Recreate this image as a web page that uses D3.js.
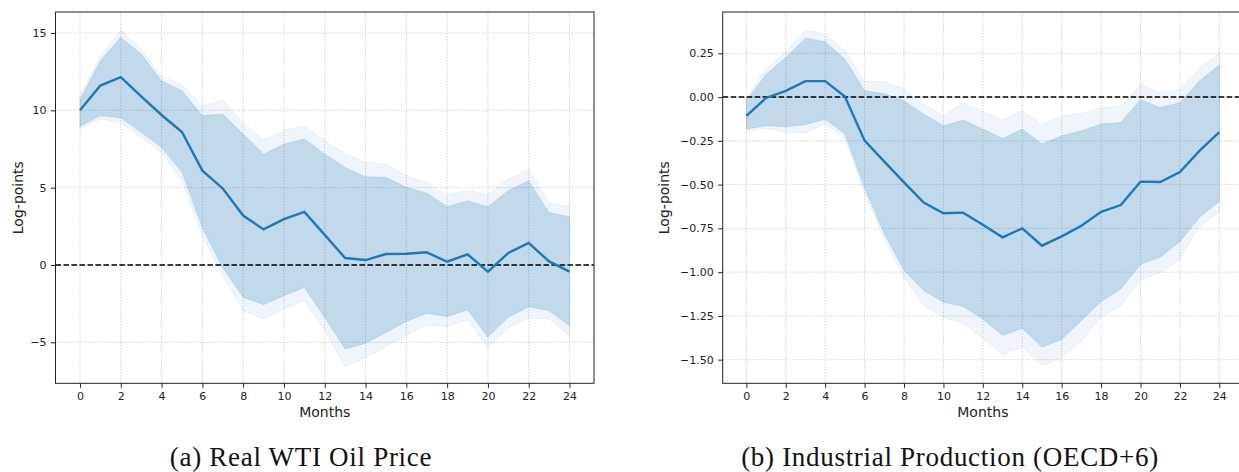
<!DOCTYPE html>
<html>
<head>
<meta charset="utf-8">
<script src="https://cdn.jsdelivr.net/npm/d3@7"></script>
<style>
  body { margin: 0; background: #fff; }
  .tick text { font-family: "DejaVu Sans", sans-serif; font-size: 11px; fill: #222; }
  .axlabel { font-family: "DejaVu Sans", sans-serif; font-size: 14px; fill: #222; }
  .caption { font-family: "Liberation Serif", "DejaVu Serif", serif; font-size: 27px; letter-spacing: 0.7px; fill: #111; }
  .grid line { stroke: #c8c8c8; stroke-width: 0.8; stroke-dasharray: 1.5,1.5; }
</style>
</head>
<body>
<div id="main"></div>
<script>
const ctx = {
    SVG_W: 1239,
    SVG_H: 472,
};

const months = d3.range(0, 25);
const xTicks = d3.range(0, 25, 2);

// (a) Real WTI oil price
const oilMedian  = [10.0, 11.6, 12.15, 10.9, 9.7, 8.6, 6.1, 4.95, 3.2, 2.3, 2.97, 3.43, 1.95, 0.45, 0.32, 0.71, 0.73, 0.82, 0.21, 0.69, -0.43, 0.78, 1.42, 0.23, -0.43];
const oilInnerHi = [10.7, 13.2, 14.72, 13.65, 11.92, 11.27, 9.66, 9.77, 8.47, 7.18, 7.83, 8.15, 7.18, 6.31, 5.71, 5.67, 5.02, 4.66, 3.79, 4.16, 3.77, 4.81, 5.45, 3.4, 3.12];
const oilInnerLo = [8.95, 9.66, 9.5, 8.58, 7.6, 5.99, 2.4, -0.2, -2.1, -2.57, -1.99, -1.45, -3.39, -5.43, -5.07, -4.36, -3.65, -3.13, -3.34, -2.91, -4.68, -3.39, -2.7, -2.96, -3.93];
const oilOuterHi = [11.0, 13.5, 15.2, 13.97, 12.18, 11.7, 10.3, 10.67, 9.22, 8.09, 8.69, 9.01, 8.04, 7.22, 6.64, 6.53, 5.78, 5.34, 4.53, 4.85, 4.55, 5.56, 6.14, 4.01, 3.77];
const oilOuterLo = [8.8, 9.44, 9.22, 8.25, 7.28, 5.45, 1.9, -0.7, -2.96, -3.49, -2.85, -2.31, -4.25, -6.56, -6.02, -5.28, -4.57, -3.86, -3.99, -3.56, -5.37, -4.08, -3.43, -3.49, -4.57];
const oilYTicks = [-5, 0, 5, 10, 15];

// (b) Industrial production (OECD+6)
const ipMedian  = [-0.108, -0.005, 0.036, 0.091, 0.091, 0.003, -0.249, -0.369, -0.487, -0.603, -0.664, -0.66, -0.729, -0.801, -0.75, -0.849, -0.796, -0.735, -0.655, -0.617, -0.483, -0.485, -0.428, -0.306, -0.2];
const ipInnerHi = [-0.021, 0.13, 0.226, 0.337, 0.316, 0.217, 0.036, 0.02, -0.021, -0.097, -0.164, -0.131, -0.183, -0.236, -0.183, -0.268, -0.221, -0.192, -0.154, -0.145, -0.015, -0.059, -0.031, 0.093, 0.184];
const ipInnerLo = [-0.183, -0.164, -0.17, -0.158, -0.126, -0.211, -0.52, -0.78, -0.99, -1.106, -1.172, -1.197, -1.267, -1.362, -1.321, -1.429, -1.385, -1.277, -1.168, -1.096, -0.957, -0.915, -0.826, -0.687, -0.596];
const ipOuterHi = [-0.002, 0.16, 0.26, 0.382, 0.36, 0.264, 0.087, 0.089, 0.046, -0.04, -0.107, -0.031, -0.082, -0.131, -0.078, -0.16, -0.107, -0.094, -0.059, -0.055, 0.074, 0.026, 0.04, 0.169, 0.249];
const ipOuterLo = [-0.196, -0.179, -0.2, -0.205, -0.154, -0.234, -0.55, -0.81, -1.03, -1.19, -1.261, -1.292, -1.376, -1.471, -1.425, -1.533, -1.49, -1.39, -1.258, -1.191, -1.045, -1.005, -0.925, -0.735, -0.659];
const ipYTicks = [-1.5, -1.25, -1.0, -0.75, -0.5, -0.25, 0.0, 0.25];

const BLUE = "#1f77b4";

function fmtMinus(s) { return s.replace("-", "\u2212"); }

function drawPanel(svgEl, opt) {
    let x = d3.scaleLinear().domain([-1.2, 25.2]).range([opt.left, opt.right]);
    let y = d3.scaleLinear().domain(opt.yDomain).range([opt.bottom, opt.top]);
    let g = svgEl.append("g");

    // grid
    let grid = g.append("g").attr("class", "grid");
    grid.selectAll("line.gx").data(xTicks).enter().append("line")
        .attr("x1", d => x(d)).attr("x2", d => x(d))
        .attr("y1", opt.top).attr("y2", opt.bottom);
    grid.selectAll("line.gy").data(opt.yTicks).enter().append("line")
        .attr("x1", opt.left).attr("x2", opt.right)
        .attr("y1", d => y(d)).attr("y2", d => y(d));

    // bands
    let area = (lo, hi) => d3.area()
        .x((d, i) => x(months[i]))
        .y0((d, i) => y(lo[i]))
        .y1((d, i) => y(hi[i]));
    g.append("path").datum(months)
        .attr("d", area(opt.outerLo, opt.outerHi))
        .attr("fill", BLUE).attr("fill-opacity", 0.07)
        .attr("stroke", BLUE).attr("stroke-opacity", 0.07).attr("stroke-width", 1);
    g.append("path").datum(months)
        .attr("d", area(opt.innerLo, opt.innerHi))
        .attr("fill", BLUE).attr("fill-opacity", 0.22)
        .attr("stroke", BLUE).attr("stroke-opacity", 0.12).attr("stroke-width", 1);

    // zero line
    g.append("line")
        .attr("x1", opt.left).attr("x2", opt.right)
        .attr("y1", y(0)).attr("y2", y(0))
        .attr("stroke", "#000").attr("stroke-width", 1.5)
        .attr("stroke-dasharray", "5.5,2.5");

    // median
    g.append("path").datum(opt.median)
        .attr("d", d3.line().x((d, i) => x(months[i])).y(d => y(d)))
        .attr("fill", "none").attr("stroke", BLUE).attr("stroke-width", 2.4);

    // frame
    g.append("rect")
        .attr("x", opt.left).attr("y", opt.top)
        .attr("width", opt.right - opt.left).attr("height", opt.bottom - opt.top)
        .attr("fill", "none").attr("stroke", "#222").attr("stroke-width", 1);

    // axes
    let xAxis = d3.axisBottom(x).tickValues(xTicks).tickSize(4.5).tickPadding(4.5);
    g.append("g").attr("transform", "translate(0," + opt.bottom + ")").call(xAxis)
        .call(a => a.select(".domain").remove());
    let yAxis = d3.axisLeft(y).tickValues(opt.yTicks).tickSize(4.5).tickPadding(4.5)
        .tickFormat(d => fmtMinus(opt.yFmt(d)));
    g.append("g").attr("transform", "translate(" + opt.left + ",0)").call(yAxis)
        .call(a => a.select(".domain").remove());
    g.selectAll(".tick line").attr("stroke", "#222");

    // labels
    g.append("text").attr("class", "axlabel")
        .attr("x", (opt.left + Math.min(opt.right, ctx.SVG_W + 4)) / 2)
        .attr("y", 417).attr("text-anchor", "middle").text("Months");
    g.append("text").attr("class", "axlabel")
        .attr("transform", "translate(" + opt.ylabX + "," + ((opt.top + opt.bottom) / 2) + ") rotate(-90)")
        .attr("text-anchor", "middle").text("Log-points");
    g.append("text").attr("class", "caption")
        .attr("x", opt.capX).attr("y", 466).attr("text-anchor", "middle").text(opt.caption);
}

function createViz() {
    let svgEl = d3.select("#main").append("svg")
        .attr("width", ctx.SVG_W).attr("height", ctx.SVG_H);

    drawPanel(svgEl, {
        left: 55.5, right: 594, top: 12, bottom: 383.3,
        yDomain: [-7.65, 16.36], yTicks: oilYTicks, yFmt: d3.format("d"),
        median: oilMedian, innerLo: oilInnerLo, innerHi: oilInnerHi,
        outerLo: oilOuterLo, outerHi: oilOuterHi,
        ylabX: 23, capX: 301, caption: "(a) Real WTI Oil Price"
    });
    drawPanel(svgEl, {
        left: 722.7, right: 1243, top: 12, bottom: 383.3,
        yDomain: [-1.635, 0.486], yTicks: ipYTicks, yFmt: d3.format(".2f"),
        median: ipMedian, innerLo: ipInnerLo, innerHi: ipInnerHi,
        outerLo: ipOuterLo, outerHi: ipOuterHi,
        ylabX: 669, capX: 950, caption: "(b) Industrial Production (OECD+6)"
    });
}

createViz();
</script>
</body>
</html>
